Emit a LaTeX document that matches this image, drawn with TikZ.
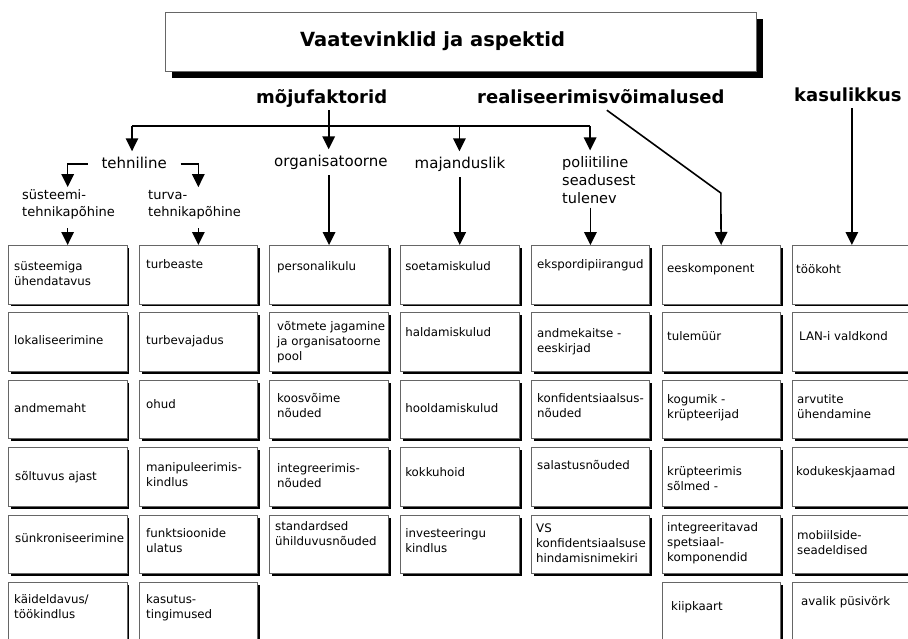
\documentclass[tikz,border=0pt]{standalone}
\usepackage{fontspec}
\setmainfont{DejaVu Sans}
\usetikzlibrary{arrows.meta,shadows}

% one table cell: name, column, row, text x offset, first baseline offset, text
\newcommand\mkcell[6]{%
  \node[cell] (#1) at ({8+130.7*#2},{245+67.4*#3}) {};
  \node[celltext] (#1t) at ({8+130.7*#2+#4},{245+67.4*#3+#5-10.5}) {\strut #6};}

\begin{document}
\begin{tikzpicture}[x=1pt,y=-1pt,
  cell/.style={draw=black!60, line width=0.8pt, fill=white, anchor=north west,
    minimum width=118.5pt, minimum height=58.5pt, inner sep=0pt,
    general shadow={fill=black, shadow xshift=2.5pt, shadow yshift=-2.5pt}},
  celltext/.style={font=\fontsize{11.8}{15}\selectfont, align=left, inner sep=0pt, anchor=north west},
  titlebox/.style={draw=black!60, line width=0.8pt, fill=white, anchor=north west,
    minimum width=591pt, minimum height=59pt, inner sep=0pt,
    general shadow={fill=black, shadow xshift=6.5pt, shadow yshift=-6.5pt}},
  titletext/.style={font=\bfseries\fontsize{19.5}{23}\selectfont, inner sep=3pt},
  head/.style={font=\bfseries\fontsize{18}{21}\selectfont, inner sep=3pt, text height=13.5pt, text depth=4pt},
  cat/.style={font=\fontsize{15}{18}\selectfont, inner ysep=5.5pt, text height=11pt, text depth=3.5pt},
  catml/.style={font=\fontsize{14.5}{18}\selectfont, align=left, inner xsep=0pt, inner ysep=4pt},
  sub/.style={font=\fontsize{13}{17}\selectfont, align=left, inner sep=0pt},
  conn/.style={line width=1.6pt},
  arr/.style={conn, -{Triangle[width=12.5pt,length=13pt]}}]

\fill[white] (0,0) rectangle (908,638);
\begin{pgfinterruptboundingbox}
\clip (0,0) rectangle (908,638);

% title
\node[titlebox] (tbox) at (165,12) {};
\node[titletext, anchor=base west] (title) at (297,46) {Vaatevinklid ja aspektid};

% main headings
\node[head, anchor=base west] (mf) at (253,103) {mõjufaktorid};
\node[head, anchor=base west] (rv) at (474,103) {realiseerimisvõimalused};
\node[head, anchor=base west] (ks) at (791,101) {kasulikkus};

% factor groups
\node[cat, anchor=base, inner xsep=13.5pt] (teh) at (134.2,168) {tehniline};
\node[cat, anchor=base west, inner xsep=0pt] (org) at (274,166) {organisatoorne};
\node[cat, anchor=base, inner xsep=0pt] (maj) at (460,168) {majanduslik};
\node[catml, anchor=north west] (pol) at (562,150.4) {\strut poliitiline\\seadusest\\tulenev};
\node[sub, anchor=north west] (syst) at (22,187.1) {\strut süsteemi-\\tehnikapõhine};
\node[sub, anchor=north west] (turv) at (148,187.1) {\strut turva-\\tehnikapõhine};

% column 1
\mkcell{c11}{0}{0}{6}{25.5}{süsteemiga\\ühendatavus}
\mkcell{c21}{0}{1}{6}{32}{lokaliseerimine}
\mkcell{c31}{0}{2}{6}{32.7}{andmemaht}
\mkcell{c41}{0}{3}{7}{33.3}{sõltuvus ajast}
\mkcell{c51}{0}{4}{7}{28}{sünkroniseerimine}
\mkcell{c61}{0}{5}{6}{21.5}{käideldavus/\\töökindlus}
% column 2
\mkcell{c12}{1}{0}{7.3}{23.5}{turbeaste}
\mkcell{c22}{1}{1}{7.3}{32}{turbevajadus}
\mkcell{c32}{1}{2}{7.3}{28.7}{ohud}
\mkcell{c42}{1}{3}{7.3}{24.3}{manipuleerimis-\\kindlus}
\mkcell{c52}{1}{4}{7.3}{23}{funktsioonide\\ulatus}
\mkcell{c62}{1}{5}{7.3}{21.5}{kasutus-\\tingimused}
% column 3
\mkcell{c13}{2}{0}{7.6}{25.5}{personalikulu}
\mkcell{c23}{2}{1}{7.6}{18}{võtmete jagamine\\ja organisatoorne\\pool}
\mkcell{c33}{2}{2}{7.6}{22.7}{koosvõime\\nõuded}
\mkcell{c43}{2}{3}{7.6}{25.3}{integreerimis-\\nõuded}
\mkcell{c53}{2}{4}{5.6}{16}{standardsed\\ühilduvusnõuded}
% column 4
\mkcell{c14}{3}{0}{5}{25.5}{soetamiskulud}
\mkcell{c24}{3}{1}{5}{24}{haldamiskulud}
\mkcell{c34}{3}{2}{5}{32.7}{hooldamiskulud}
\mkcell{c44}{3}{3}{5}{29.3}{kokkuhoid}
\mkcell{c54}{3}{4}{5}{23}{investeeringu\\kindlus}
% column 5
\mkcell{c15}{4}{0}{6.2}{23.5}{ekspordipiirangud}
\mkcell{c25}{4}{1}{6.2}{25}{andmekaitse -\\eeskirjad}
\mkcell{c35}{4}{2}{6.2}{22.7}{konfidentsiaalsus-\\nõuded}
\mkcell{c45}{4}{3}{6.2}{22.3}{salastusnõuded}
\mkcell{c55}{4}{4}{5.2}{17.4}{VS\\konfidentsiaalsuse\\hindamisnimekiri}
% column 6
\mkcell{c16}{5}{0}{5.5}{27.5}{eeskomponent}
\mkcell{c26}{5}{1}{5.5}{28}{tulemüür}
\mkcell{c36}{5}{2}{5.5}{23.7}{kogumik -\\krüpteerijad}
\mkcell{c46}{5}{3}{5.5}{28.3}{krüpteerimis\\sõlmed -}
\mkcell{c56}{5}{4}{5.5}{17}{integreeritavad\\spetsiaal-\\komponendid}
\mkcell{c66}{5}{5}{9.5}{28.5}{kiipkaart}
% column 7
\mkcell{c17}{6}{0}{3.8}{28.5}{töökoht}
\mkcell{c27}{6}{1}{6.8}{28}{LAN-i valdkond}
\mkcell{c37}{6}{2}{4.8}{23.7}{arvutite\\ühendamine}
\mkcell{c47}{6}{3}{3.8}{28.3}{kodukeskjaamad}
\mkcell{c57}{6}{4}{4.8}{25}{mobiilside-\\seadeldised}
\mkcell{c67}{6}{5}{8.8}{23.5}{avalik püsivörk}

% distribution bar under the factor heading
\coordinate (j1) at (132,126);
\coordinate (j2) at (328.7,126);
\coordinate (j3) at (459.4,126);
\coordinate (j4) at (590.1,126);
\draw[conn] (j1) -- (j4);
\draw[conn] (j2 |- mf.south) -- (j2);
\draw[arr] (j1) -- (j1 |- teh.north);
\draw[arr] (j2) -- (j2 |- org.north);
\draw[arr] (j3) -- (j3 |- maj.north);
\draw[arr] (j4) -- (j4 |- pol.north);

% technical branch
\draw[arr] (teh.west) -| (syst.north -| c11.north);
\draw[arr] (teh.east) -| (turv.north -| c12.north);
\draw[arr, shorten <=9pt] (syst.south -| c11.north) -- (c11.north);
\draw[arr, shorten <=9pt] (turv.south -| c12.north) -- (c12.north);

% remaining factor columns
\draw[arr] (org.south -| c13.north) -- (c13.north);
\draw[arr] (maj.south -| c14.north) -- (c14.north);
\draw[arr] (pol.south -| c15.north) -- (c15.north);

% implementation options and usefulness
\coordinate (rvk) at (720.8,193);
\draw[arr] ([xshift=6pt]rv.south) -- (rvk) -- (c16.north);
\draw[arr] (ks.south -| c17.north) -- (c17.north);
\end{pgfinterruptboundingbox}
\end{tikzpicture}
\end{document}
